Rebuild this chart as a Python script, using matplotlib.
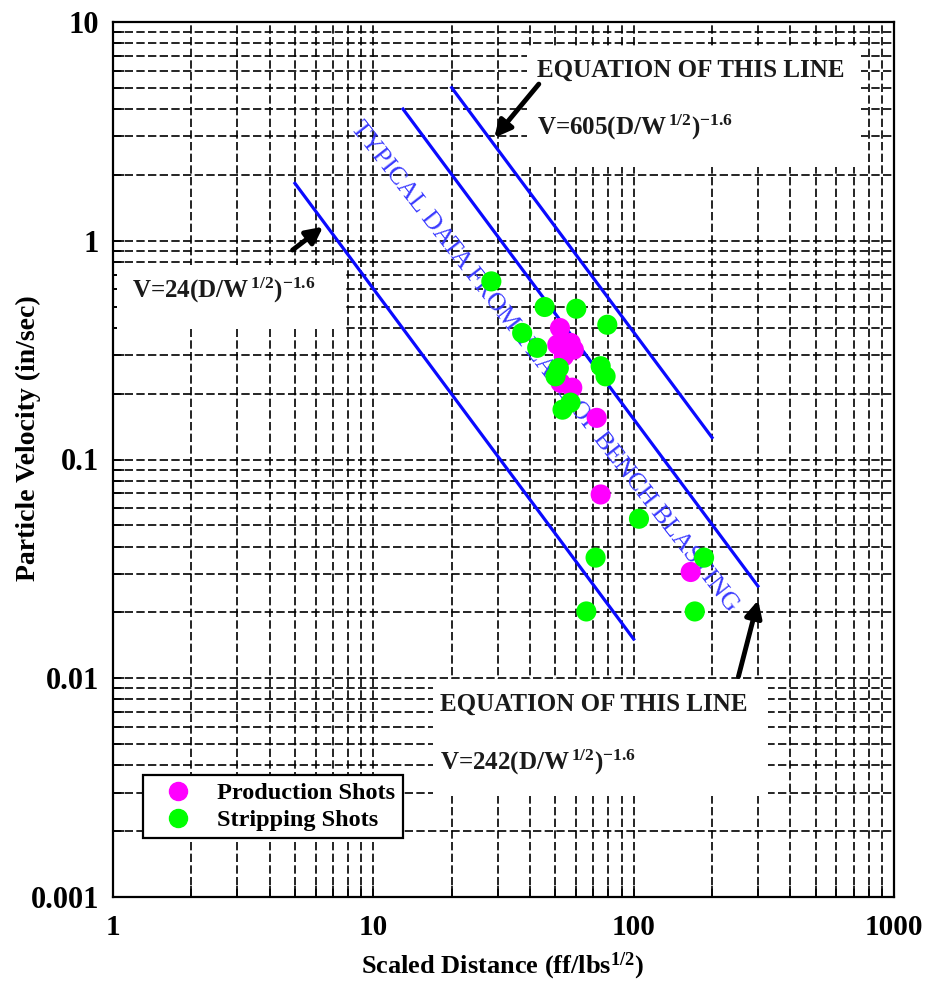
import matplotlib.pyplot as plt
from matplotlib.patches import Rectangle
from matplotlib.lines import Line2D
from matplotlib.ticker import NullFormatter

plt.rcParams['font.family'] = ['Liberation Serif', 'DejaVu Serif']
plt.rcParams['mathtext.fontset'] = 'custom'
plt.rcParams['mathtext.rm'] = 'Liberation Serif'
plt.rcParams['mathtext.bf'] = 'Liberation Serif:bold'
plt.rcParams['mathtext.default'] = 'bf'

# scaled distance / particle velocity
prod_x = [52.1, 50.9, 57.3, 53.9, 58.9, 52.4, 58.1, 72.1, 74.7, 165.6]
prod_y = [0.399, 0.335, 0.341, 0.296, 0.318, 0.224, 0.213, 0.155, 0.0692, 0.0306]
strip_x = [28.4, 45.5, 60.2, 79.2, 37.3, 42.6, 51.6, 50.1, 74.7, 78.0,
           53.3, 57.2, 104.8, 71.4, 186.4, 65.8, 171.7]
strip_y = [0.652, 0.498, 0.489, 0.413, 0.379, 0.324, 0.262, 0.240, 0.267, 0.240,
           0.169, 0.182, 0.0536, 0.0356, 0.0356, 0.0202, 0.0202]

# end points of the three V = K (D/W^1/2)^-1.6 lines (K = 24, 242, 605)
line_x = [[5, 100], [13, 300], [20, 200]]
line_y = [[1.83, 0.0151], [4.0, 0.0264], [5.01, 0.126]]

x_ticks = [1, 10, 100, 1000]
x_labels = ['1', '10', '100', '1000']
y_ticks = [0.001, 0.01, 0.1, 1, 10]
y_labels = ['0.001', '0.01', '0.1', '1', '10']

fig = plt.figure(figsize=(9.32, 9.86), dpi=100)
ax = fig.add_axes([113 / 932, 1 - 897 / 986, 781 / 932, 875 / 986])
ax.set_xscale('log')
ax.set_yscale('log')
ax.set_xlim(1, 1000)
ax.set_ylim(0.001, 10)

ax.set_axisbelow(True)
ax.grid(True, which='both', color='k', linestyle=(0, (5, 2)), linewidth=1.2)

ax.set_xticks(x_ticks)
ax.set_xticklabels(x_labels)
ax.set_yticks(y_ticks)
ax.set_yticklabels(y_labels)
ax.xaxis.set_minor_formatter(NullFormatter())
ax.yaxis.set_minor_formatter(NullFormatter())
ax.tick_params(which='both', direction='in', length=8, width=1.2, colors='k')
ax.tick_params(axis='y', which='major', labelsize=22, pad=10)
ax.tick_params(axis='x', which='major', labelsize=21, pad=12)
for lab in ax.get_xticklabels() + ax.get_yticklabels():
    lab.set_fontweight('bold')
for sp in ax.spines.values():
    sp.set_linewidth(1.6)

# white patches where the labels were pasted over the grid
for (x0, x1, y0, y1) in [(39.1, 746, 2.18, 7.7), (1.036, 7.67, 0.393, 0.777),
                         (17.0, 327, 0.00289, 0.00989)]:
    ax.add_patch(Rectangle((x0, y0), x1 - x0, y1 - y0, facecolor='white',
                           edgecolor='none', zorder=1))

for xs, ys in zip(line_x, line_y):
    ax.plot(xs, ys, color='#0a0aff', lw=2.3, zorder=2)

ax.scatter(prod_x, prod_y, s=210, color='#ff00ff', edgecolors='none', zorder=3)
ax.scatter(strip_x, strip_y, s=210, color='#00ff00', edgecolors='none', zorder=4)

txt = dict(fontsize=18, fontweight='bold', color='#1a1a1a', ha='left', va='baseline', zorder=5)
ax.text(42.7, 5.61, 'EQUATION OF THIS LINE', **txt)
ax.text(42.7, 3.05, 'V=605(D/W$^{\\,1/2}$)$^{-1.6}$', **txt)
ax.text(1.183, 0.549, 'V=24(D/W$^{\\,1/2}$)$^{-1.6}$', **txt)
ax.text(18.1, 0.00707, 'EQUATION OF THIS LINE', **txt)
ax.text(18.1, 0.00384, 'V=242(D/W$^{\\,1/2}$)$^{-1.6}$', **txt)

arrow = dict(arrowstyle='-|>', lw=3.5, color='k', mutation_scale=25)
ax.annotate('', xy=(28.7, 2.89), xytext=(43.9, 5.32), arrowprops=arrow, zorder=5)
ax.annotate('', xy=(6.54, 1.18), xytext=(4.80, 0.891), arrowprops=arrow, zorder=5)
ax.annotate('', xy=(302.6, 0.0234), xytext=(251, 0.00989), arrowprops=arrow, zorder=5)

ax.text(8.45, 3.42, 'TYPICAL DATA FROM YEARS OF BENCH BLASTING', fontsize=18.5,
        color='#3a3aff', rotation=-52, rotation_mode='anchor', ha='left',
        va='center', zorder=2.5)

handles = [Line2D([], [], marker='o', ls='none', color='#ff00ff', markersize=13),
           Line2D([], [], marker='o', ls='none', color='#00ff00', markersize=13)]
leg = ax.legend(handles, ['Production Shots', 'Stripping Shots'], loc='upper left',
                bbox_to_anchor=(0.0384, 0.1394), borderaxespad=0, borderpad=0.3,
                handlelength=2.28, handletextpad=0.47, labelspacing=0.2,
                prop={'size': 17.5, 'weight': 'bold'}, fancybox=False,
                framealpha=1, edgecolor='k')
leg.get_frame().set_linewidth(1.6)
leg.set_zorder(6)

fig.text(28 / 932, 1 - 438 / 986, 'Particle Velocity (in/sec)', rotation=90,
         ha='center', va='center', fontsize=20, fontweight='bold')
fig.text(503 / 932, 1 - 966 / 986, 'Scaled Distance (ff/lbs$^{1/2}$)',
         ha='center', va='center', fontsize=19, fontweight='bold')

fig.savefig('out.png', dpi=100)
